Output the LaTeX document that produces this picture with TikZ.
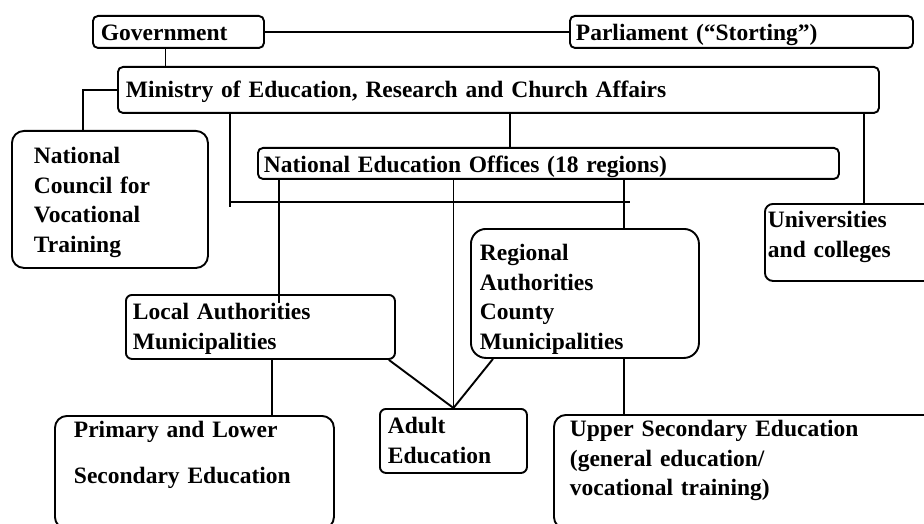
\documentclass[tikz,border=0pt]{standalone}
\usepackage{fontspec}
\setmainfont{Liberation Serif}
\usepackage{tikz}

\begin{document}
\begin{tikzpicture}[x=1pt,y=-1pt,line width=1.9pt,
  font=\bfseries\fontsize{23.5}{29.5}\selectfont,
  box/.style={draw, shape=rectangle, rounded corners=5pt, anchor=north west,
    inner ysep=0pt, align=left}]
  \useasboundingbox (0,0) rectangle (924,524);
  \node (gov) [box, inner xsep=8pt, text width=155pt, text height=25pt, text depth=7pt] at (92,15) {Government};
  \node (parl) [box, inner xsep=6pt, text width=331pt, text height=25pt, text depth=7pt] at (569,15) {Parliament (``Storting'')};
  \node (min) [box, inner xsep=8pt, text width=745pt, text height=31pt, text depth=15pt] at (117,66) {Ministry of Education, Research and Church Affairs};
  \node (ncvt) [box, rounded corners=12pt, inner xsep=22pt, text width=152pt, text height=33pt, text depth=104pt] at (11,130) {National \\ Council for \\ Vocational \\ Training};
  \node (neo) [box, inner xsep=6pt, text width=569pt, text height=25pt, text depth=6pt] at (257,147) {National Education Offices (18 regions)};
  \node (univ) [box, rounded corners=8pt, inner xsep=3pt, text width=170pt, text height=24pt, text depth=53pt] at (764,203) {Universities \\ and colleges};
  \node (reg) [box, rounded corners=15pt, inner xsep=9pt, text width=210pt, text height=32pt, text depth=97pt] at (470,228) {Regional \\ Authorities \\ County \\ Municipalities};
  \node (loc) [box, rounded corners=6pt, inner xsep=7pt, text width=255pt, text height=25pt, text depth=39pt] at (125,294) {Local Authorities \\ Municipalities};
  \node (adult) [box, rounded corners=6pt, inner xsep=8pt, text width=131pt, text height=25pt, text depth=39pt] at (379,408) {Adult \\ Education};
  \node (prim) [box, rounded corners=12pt, inner xsep=19pt, text width=241pt, text height=22pt, text depth=91pt] at (54,415) {Primary and Lower \\[16.5pt] Secondary Education};
  \node (upsec) [box, rounded corners=12pt, inner xsep=16pt, text width=355pt, text height=22pt, text depth=92pt] at (553,414) {Upper Secondary Education \\ (general education/ \\ vocational training)};

  \coordinate (gdrop) at ([xshift=-13pt]gov.south);
  \coordinate (mdrop) at ([xshift=113pt]min.south west);
  \coordinate (ndrop) at ([xshift=393pt]min.south west);
  \coordinate (udrop) at ([xshift=-16pt]min.south east);
  \coordinate (busL) at (230,202);
  \coordinate (busR) at (630,202);
  \coordinate (ldrop) at ([xshift=22pt]neo.south west);
  \coordinate (adrop) at (adult.north |- neo.south);
  \coordinate (rdrop) at ([xshift=367pt]neo.south west);
  \coordinate (pdrop) at ([xshift=147pt]loc.south west);
  \coordinate (sdrop) at ([xshift=154pt]reg.south west);

  \draw (gov.east) -- (parl.west);
  \draw (gdrop) -- (gdrop |- min.north);
  \draw (min.west) -| ([xshift=-27pt]ncvt.north);
  \draw (ndrop) -- (ndrop |- neo.north);
  \draw (udrop) -- (udrop |- univ.north);
  \draw (mdrop) -- ([yshift=-5pt]busL);
  \draw (busL) -- (busR);
  \draw (ldrop) -- ([yshift=-9pt]ldrop |- loc.north);
  \draw (adrop) -- (adult.north);
  \draw (rdrop) -- (rdrop |- reg.north);
  \draw (pdrop) -- (pdrop |- prim.north);
  \draw ([xshift=-7pt]loc.south east) -- (adult.north);
  \draw ([xshift=23pt]reg.south west) -- (adult.north);
  \draw (sdrop) -- (sdrop |- upsec.north);
\end{tikzpicture}
\end{document}
